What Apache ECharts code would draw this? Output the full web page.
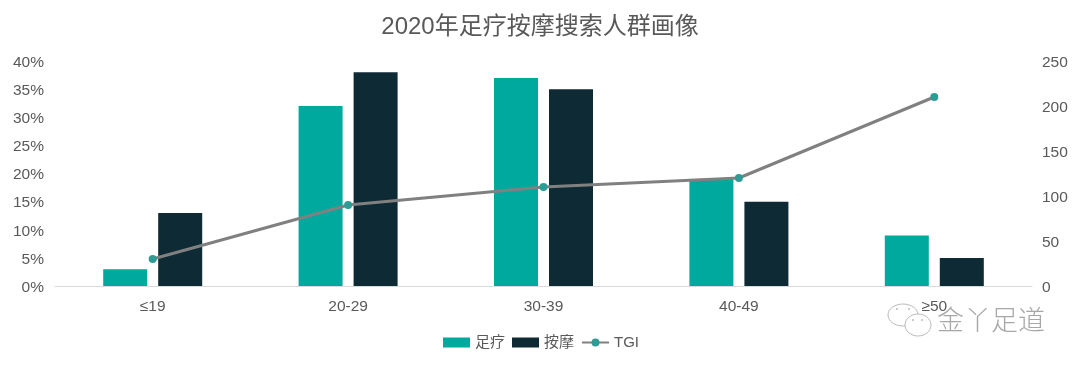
<!DOCTYPE html>
<html>
<head>
<meta charset="utf-8">
<style>html,body{margin:0;padding:0;background:#fff}#c{width:1080px;height:369px}</style>
<script src="https://cdn.jsdelivr.net/npm/echarts@6/dist/echarts.min.js"></script>
</head>
<body>
<div id="c"></div>
<script>
const categories = ['≤19', '20-29', '30-39', '40-49', '≥50'];
const zuliao = [3, 32, 37, 19, 9];
const anmo = [13, 38, 35, 15, 5];
const tgi = [30, 90, 110, 120, 210];
const titleText = '2020年足疗按摩搜索人群画像';
const watermarkText = '金丫足道';
const font = '"Liberation Sans","Noto Sans CJK SC",sans-serif';
const bubble = 'rgba(150,150,150,0.65)';
const tickRich = {t: {color: '#595959', fontSize: 15.5, fontFamily: font, padding: [3, 0, 0, 0]}};

const chart = echarts.init(document.getElementById('c'), null, {renderer: 'canvas'});
chart.setOption({
  animation: false,
  backgroundColor: '#fff',
  title: {
    text: titleText, left: 'center', top: 10,
    textStyle: {color: '#595959', fontSize: 24, fontWeight: 'normal', fontFamily: font}
  },
  legend: {
    left: 438, top: 330, itemWidth: 27, itemHeight: 10, itemGap: 7, itemStyle: {borderWidth: 0},
    data: [
      {name: '足疗', icon: 'rect'},
      {name: '按摩', icon: 'rect'},
      {name: 'TGI'}
    ],
    textStyle: {color: '#595959', fontSize: 15, fontFamily: font}
  },
  grid: {left: 55, right: 48, top: 61, bottom: 83},
  xAxis: {
    type: 'category', data: categories,
    axisLine: {lineStyle: {color: '#d9d9d9', width: 1}},
    axisTick: {show: false},
    axisLabel: {color: '#595959', fontSize: 15.5, margin: 13, fontFamily: font}
  },
  yAxis: [{
    type: 'value', min: 0, max: 40, interval: 5,
    axisLine: {show: false}, axisTick: {show: false}, splitLine: {show: false},
    axisLabel: {margin: 11, formatter: '{t|{value}%}', rich: tickRich}
  }, {
    type: 'value', min: 0, max: 250, interval: 50, position: 'right',
    axisLine: {show: false}, axisTick: {show: false}, splitLine: {show: false},
    axisLabel: {margin: 10, formatter: '{t|{value}}', rich: tickRich}
  }],
  series: [{
    name: '足疗', type: 'bar', data: zuliao, barWidth: 44, barGap: '25%',
    itemStyle: {color: '#00a99d'}
  }, {
    name: '按摩', type: 'bar', data: anmo, barWidth: 44,
    itemStyle: {color: '#0e2a35'}
  }, {
    name: 'TGI', type: 'line', yAxisIndex: 1, data: tgi,
    symbol: 'circle', symbolSize: 8,
    lineStyle: {color: '#808080', width: 3},
    itemStyle: {color: '#2e9c94'}
  }],
  graphic: [{
    type: 'text', left: 937, top: 306, z: 100,
    style: {text: watermarkText, fill: 'rgba(130,130,130,0.7)', fontSize: 27, fontFamily: '"Noto Sans CJK SC",sans-serif', fontWeight: 200}
  }, {
    type: 'ellipse', z: 99, shape: {cx: 903, cy: 315, rx: 15, ry: 11},
    style: {fill: 'none', stroke: bubble, lineWidth: 1}
  }, {
    type: 'ellipse', z: 99, shape: {cx: 918, cy: 325, rx: 13, ry: 11},
    style: {fill: '#fff', stroke: bubble, lineWidth: 1}
  }, {
    type: 'circle', z: 99, shape: {cx: 897, cy: 309, r: 1}, style: {fill: bubble}
  }, {
    type: 'circle', z: 99, shape: {cx: 909, cy: 309, r: 1}, style: {fill: bubble}
  }, {
    type: 'circle', z: 99, shape: {cx: 913, cy: 320, r: 1}, style: {fill: bubble}
  }, {
    type: 'circle', z: 99, shape: {cx: 922, cy: 320, r: 1}, style: {fill: bubble}
  }]
});
</script>
</body>
</html>
